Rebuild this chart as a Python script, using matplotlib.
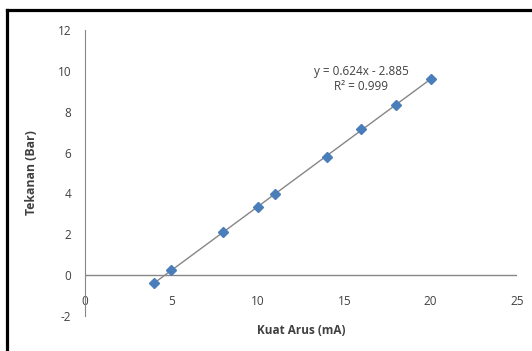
import numpy as np
import matplotlib
matplotlib.use('Agg')
import matplotlib.pyplot as plt
from matplotlib.lines import Line2D

plt.rcParams['font.family'] = ['Open Sans', 'DejaVu Sans']
plt.rcParams['font.size'] = 8
plt.rcParams['axes.unicode_minus'] = False

# data
arus = [4, 5, 8, 10, 11, 14, 16, 18, 20]
tekanan = [-0.4, 0.25, 2.1, 3.35, 3.95, 5.8, 7.15, 8.35, 9.6]
slope = 0.624
intercept = -2.885
eq_text = 'y = 0.624x - 2.885\nR² = 0.999'
xticks = [0, 5, 10, 15, 20, 25]
yticks = [-2, 0, 2, 4, 6, 8, 10, 12]

txt = '#404040'
fig = plt.figure(figsize=(5.32, 3.51), dpi=100)
ax = fig.add_axes([0.1598, 0.0997, 0.9718 - 0.1598, 0.9145 - 0.0997])

# trendline over the data range
xs = np.array([min(arus), max(arus)])
ax.plot(xs, slope * xs + intercept, color='#868686', lw=1, zorder=2)
ax.plot(arus, tekanan, 'D', color='#4A7EBB', markersize=5.5, zorder=3)

ax.axhline(0, color='#868686', lw=1, zorder=1)
ax.set_xlim(0, 25)
ax.set_ylim(-2, 12)
ax.set_xticks(xticks)
ax.set_yticks(yticks)
ax.tick_params(axis='y', length=0, pad=10, labelcolor=txt, labelsize=8.5)
ax.tick_params(axis='x', length=0, pad=-15, labelcolor=txt, labelsize=8.5)
for s in ['top', 'right', 'bottom']:
    ax.spines[s].set_visible(False)
ax.spines['left'].set_color('#868686')

ax.set_xlabel('Kuat Arus (mA)', fontweight='bold', color=txt, fontsize=8.5, labelpad=6)
ax.set_ylabel('Tekanan (Bar)', fontweight='bold', color=txt, fontsize=8.8, labelpad=14)

ax.text(16, 9.6, eq_text, ha='center', va='center', color=txt, fontsize=8.5,
        linespacing=1.15)

# picture frame (top and left edges)
fig.add_artist(Line2D([6.5 / 532, 1], [1 - 10 / 351, 1 - 10 / 351], color='black', lw=2.3))
fig.add_artist(Line2D([6.5 / 532, 6.5 / 532], [0, 1 - 10 / 351], color='black', lw=2.3))

fig.savefig('out.png', dpi=100)
